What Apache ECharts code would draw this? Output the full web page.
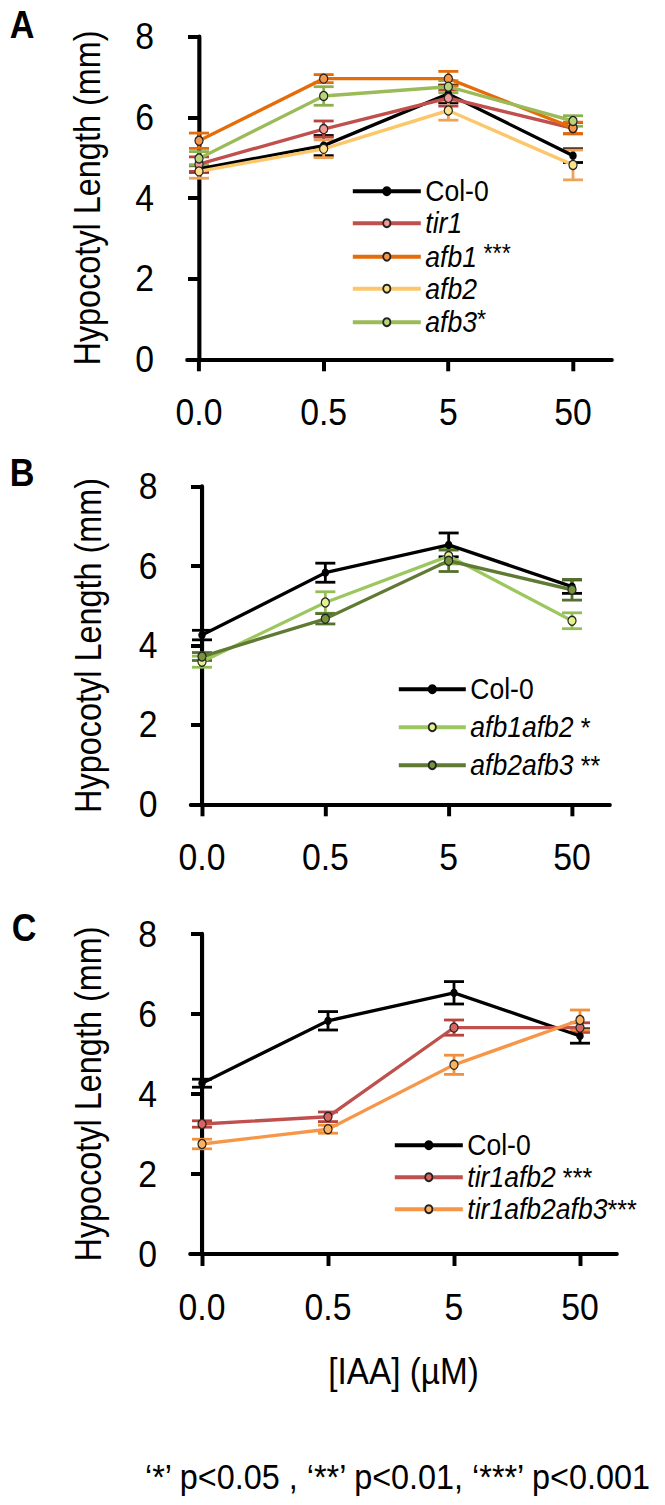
<!DOCTYPE html>
<html><head><meta charset="utf-8">
<script src="https://cdn.jsdelivr.net/npm/echarts@6/dist/echarts.min.js"></script>
<style>
html,body{margin:0;padding:0;background:#fff;overflow:hidden;width:665px;height:1505px}
#c{width:739px;height:1505px;transform:scaleX(0.9);transform-origin:0 0}
</style>
</head><body><div id="c"></div>
<script>
// ---------- data ----------
const concentrations = ['0.0', '0.5', '5', '50'];
// Panel A
const colA = [4.72, 5.30, 6.58, 5.05];
const colAErr = [0.08, 0.25, 0.22, 0.17];
const tir1 = [4.84, 5.71, 6.48, 5.73];
const tir1Err = [0.18, 0.2, 0.2, 0.14];
const afb1 = [5.42, 6.96, 6.96, 5.74];
const afb1Err = [0.19, 0.1, 0.18, 0.14];
const afb2 = [4.66, 5.22, 6.17, 4.82];
const afb2Err = [0.17, 0.22, 0.24, 0.37];
const afb3 = [4.98, 6.53, 6.76, 5.91];
const afb3Err = [0.17, 0.23, 0.15, 0.13];
// Panel B
const colB = [4.26, 5.83, 6.53, 5.48];
const colBErr = [0.12, 0.24, 0.3, 0.17];
const afb1afb2 = [3.59, 5.08, 6.25, 4.62];
const afb1afb2Err = [0.14, 0.27, 0.2, 0.2];
const afb2afb3 = [3.72, 4.67, 6.13, 5.40];
const afb2afb3Err = [0.1, 0.13, 0.27, 0.26];
// Panel C
const colC = [4.27, 5.83, 6.53, 5.45];
const colCErr = [0.1, 0.23, 0.28, 0.18];
const tir1afb2 = [3.25, 3.43, 5.66, 5.66];
const tir1afb2Err = [0.08, 0.12, 0.19, 0.12];
const tir1afb2afb3 = [2.75, 3.12, 4.73, 5.85];
const tir1afb2afb3Err = [0.12, 0.1, 0.24, 0.25];
const yTitle = 'Hypocotyl Length (mm)';
const xTitle = '[IAA] (\u00b5M)';
const footnote = '\u2018*\u2019 p<0.05 , \u2018**\u2019 p<0.01, \u2018***\u2019 p<0.001';

// ---------- layout / style ----------
// The page is drawn 1/0.9 wider and squeezed horizontally to mimic the condensed typeface.
const S = 0.9;
const X = px => px / S;
const FONT = "'Liberation Sans', Arial, sans-serif";
const panels = [
  {left: 187, top: 36.7, width: 425, height: 322.6, zero: 199, three: 573, titleX: 87},
  {left: 190.6, top: 486.5, width: 419.4, height: 317.8, zero: 202, three: 572, titleX: 88},
  {left: 190, top: 934, width: 427, height: 320, zero: 202, three: 580, titleX: 88}
];

function toPairs(arr) { return arr.map((v, i) => [i, v]); }

function lineSeries(name, gi, values, lineColor, fill, size, border) {
  return {
    name, type: 'line', xAxisIndex: gi, yAxisIndex: gi, data: toPairs(values),
    symbol: 'circle', symbolSize: size, z: 5,
    lineStyle: {color: lineColor, width: 3.4},
    itemStyle: {color: fill, borderColor: border, borderWidth: 1.3},
    emphasis: {disabled: true}
  };
}
function errSeries(gi, values, errs, color) {
  return {
    type: 'custom', xAxisIndex: gi, yAxisIndex: gi, z: 3, silent: true,
    data: values.map((v, i) => [i, v - errs[i], v + errs[i]]),
    encode: {x: 0, y: [1, 2]},
    renderItem: (params, api) => {
      const x = api.value(0);
      const lo = api.coord([x, api.value(1)]);
      const hi = api.coord([x, api.value(2)]);
      const w = X(10);
      const cap = {stroke: color, lineWidth: 2.8, fill: null};
      const stem = {stroke: color, lineWidth: 3.1, fill: null};
      return {type: 'group', children: [
        {type: 'line', shape: {x1: lo[0], y1: lo[1], x2: hi[0], y2: hi[1]}, style: stem},
        {type: 'line', shape: {x1: lo[0] - w, y1: lo[1], x2: lo[0] + w, y2: lo[1]}, style: cap},
        {type: 'line', shape: {x1: hi[0] - w, y1: hi[1], x2: hi[0] + w, y2: hi[1]}, style: cap}
      ]};
    }
  };
}

const legendLabels = {
  'Col-0': '{n|Col-0}',
  'tir1': '{i|tir1}',
  'afb1': '{i|afb1}{s| ***}',
  'afb2': '{i|afb2}',
  'afb3': '{i|afb3}{s|*}',
  'afb1afb2': '{i|afb1afb2}{a| *}',
  'afb2afb3': '{i|afb2afb3}{a| **}',
  'tir1afb2': '{i|tir1afb2}{a| ***}',
  'tir1afb2afb3': '{i|tir1afb2afb3}{a|***}'
};
const richStyles = {
  n: {fontFamily: FONT, fontSize: 29.5, lineHeight: 33, color: '#000'},
  i: {fontFamily: FONT, fontSize: 29.5, fontStyle: 'italic', lineHeight: 33, color: '#000'},
  s: {fontFamily: FONT, fontSize: 26, lineHeight: 12, verticalAlign: 'top', color: '#000'},
  a: {fontFamily: FONT, fontSize: 28, lineHeight: 33, color: '#000'}
};
function legend(names, left, top, itemWidth, gap) {
  return {
    data: names, orient: 'vertical', left: X(left), top, itemWidth: X(itemWidth), itemHeight: 10,
    itemGap: gap, selectedMode: false, padding: 0,
    lineStyle: {width: 4},
    formatter: n => legendLabels[n],
    textStyle: {rich: richStyles}
  };
}

const xAxes = panels.map((p, gi) => {
  const unit = (p.three - p.zero) / 3;
  const ax = {
    gridIndex: gi, type: 'value',
    min: (p.left - p.zero) / unit, max: (p.left + p.width - p.zero) / unit,
    axisLine: {show: true, onZero: false, lineStyle: {color: '#000', width: 4}},
    axisTick: {show: true, customValues: [0, 1, 2, 3], length: 12, lineStyle: {color: '#000', width: 4.4}},
    axisLabel: {customValues: [0, 1, 2, 3], formatter: v => concentrations[Math.round(v)],
      margin: 34, fontSize: 37.5, fontFamily: FONT, color: '#000'},
    splitLine: {show: false}
  };
  if (gi === 2) {
    ax.name = xTitle;
    ax.nameLocation = 'middle';
    ax.nameGap = 117;
    ax.nameTextStyle = {fontSize: 37, fontFamily: FONT, color: '#000', verticalAlign: 'middle'};
  }
  return ax;
});
const yAxes = panels.map((p, gi) => ({
  gridIndex: gi, type: 'value', min: 0, max: 8, interval: 2,
  axisLine: {show: true, onZero: true, lineStyle: {color: '#000', width: 4.6}},
  axisTick: {show: true, length: X(11), lineStyle: {color: '#000', width: 4}},
  axisLabel: {margin: X(33), fontSize: 37.5, fontFamily: FONT, color: '#000'},
  splitLine: {show: false}
}));

const series = [
  errSeries(0, colA, colAErr, '#000'),
  errSeries(0, tir1, tir1Err, '#b8443f'),
  errSeries(0, afb1, afb1Err, '#e46c0a'),
  errSeries(0, afb2, afb2Err, '#eea35a'),
  errSeries(0, afb3, afb3Err, '#8fb04e'),
  lineSeries('Col-0', 0, colA, '#000', '#000', 7, '#000'),
  lineSeries('tir1', 0, tir1, '#c0504d', '#f29a98', 9, '#222'),
  lineSeries('afb1', 0, afb1, '#e46c0a', '#f79646', 9, '#222'),
  lineSeries('afb2', 0, afb2, '#fcc76b', '#fde08a', 9, '#222'),
  lineSeries('afb3', 0, afb3, '#9bbb59', '#b7d47c', 9, '#222'),

  errSeries(1, colB, colBErr, '#000'),
  errSeries(1, afb1afb2, afb1afb2Err, '#93bd55'),
  errSeries(1, afb2afb3, afb2afb3Err, '#55702d'),
  lineSeries('Col-0', 1, colB, '#000', '#000', 7, '#000'),
  lineSeries('afb1afb2', 1, afb1afb2, '#9cc65e', '#e4f28a', 9, '#222'),
  lineSeries('afb2afb3', 1, afb2afb3, '#5f7a33', '#77933c', 9, '#222'),

  errSeries(2, colC, colCErr, '#000'),
  errSeries(2, tir1afb2, tir1afb2Err, '#b8443f'),
  errSeries(2, tir1afb2afb3, tir1afb2afb3Err, '#f0913e'),
  lineSeries('Col-0', 2, colC, '#000', '#000', 7, '#000'),
  lineSeries('tir1afb2', 2, tir1afb2, '#c0504d', '#d8665f', 9, '#222'),
  lineSeries('tir1afb2afb3', 2, tir1afb2afb3, '#f79646', '#f9b35c', 9, '#222')
];

const letterFont = "bold 38px 'Liberation Sans', Arial, sans-serif";
// rotated y-axis titles in a condensed look: shortened along the text, thickened across it
const yTitleGraphics = panels.map(p => ({
  type: 'text', x: X(p.titleX), y: p.top + p.height / 2, rotation: Math.PI / 2,
  scaleX: 0.853, scaleY: 1.1,
  style: {text: yTitle, font: "38px 'Liberation Sans', Arial, sans-serif", fill: '#000', align: 'center', verticalAlign: 'middle'}
}));
const option = {
  animation: false,
  backgroundColor: '#fff',
  grid: panels.map(p => ({left: X(p.left), top: p.top, width: X(p.width), height: p.height, containLabel: false})),
  xAxis: xAxes,
  yAxis: yAxes,
  legend: [
    legend(['Col-0', 'tir1', 'afb1', 'afb2', 'afb3'], 351, 176.2, 68, 2),
    legend(['Col-0', 'afb1afb2', 'afb2afb3'], 397, 674.2, 67, 8),
    legend(['Col-0', 'tir1afb2', 'tir1afb2afb3'], 393, 1130.2, 68, 2)
  ],
  graphic: yTitleGraphics.concat([
    {type: 'text', x: X(22), y: 25, style: {text: 'A', font: letterFont, fill: '#000', align: 'center', verticalAlign: 'middle'}},
    {type: 'text', x: X(22), y: 472.5, style: {text: 'B', font: letterFont, fill: '#000', align: 'center', verticalAlign: 'middle'}},
    {type: 'text', x: X(24), y: 927.5, style: {text: 'C', font: letterFont, fill: '#000', align: 'center', verticalAlign: 'middle'}},
    {type: 'text', x: X(145), y: 1476, style: {text: footnote, font: "36px 'Liberation Sans', Arial, sans-serif", fill: '#000', align: 'left', verticalAlign: 'middle'}}
  ]),
  series
};
const chart = echarts.init(document.getElementById('c'), null, {renderer: 'svg'});
chart.setOption(option);
</script>
</body></html>
